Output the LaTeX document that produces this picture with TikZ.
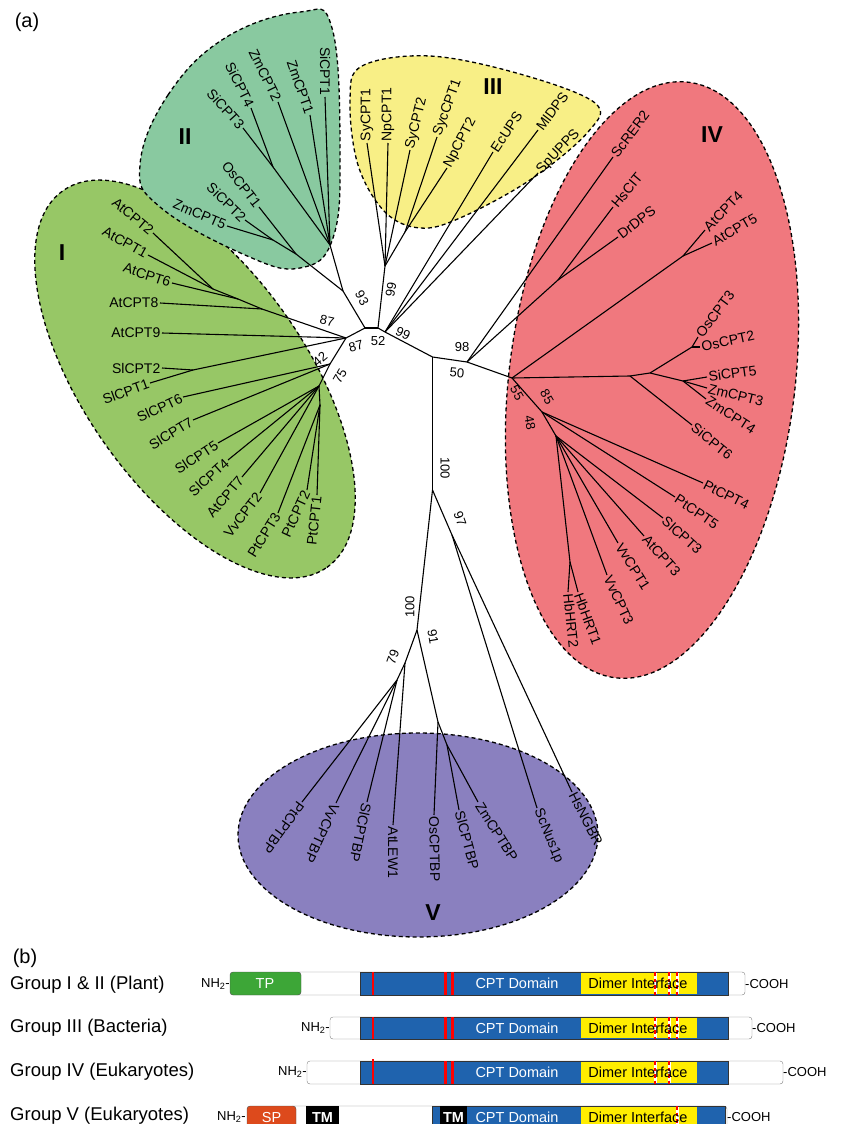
\documentclass[tikz,border=0pt]{standalone}
\usepackage{fontspec}
\setmainfont{Liberation Sans}
\definecolor{grpi}{HTML}{97C766}
\definecolor{grpii}{HTML}{89C9A0}
\definecolor{grpiii}{HTML}{F8EF86}
\definecolor{grpiv}{HTML}{F0787E}
\definecolor{grpv}{HTML}{8A80BF}
\definecolor{cptblue}{HTML}{1F63AE}
\definecolor{dimer}{HTML}{FFED00}
\definecolor{tpgreen}{HTML}{3DA637}
\definecolor{spred}{HTML}{DD4A1C}
\tikzstyle{clade}=[draw=black, line width=1.3pt, dash pattern=on 4pt off 3pt]
\tikzstyle{twig}=[line width=1.1pt]
\tikzstyle{taxon}=[anchor=east, inner sep=1.5pt, font=\fontsize{14}{16}\selectfont]
\tikzstyle{taxonr}=[anchor=west, inner sep=1.5pt, font=\fontsize{14}{16}\selectfont]
\tikzstyle{boot}=[inner sep=0pt, font=\fontsize{13}{15}\selectfont]
\tikzstyle{groupname}=[inner sep=0pt, font=\fontsize{23}{26}\selectfont\bfseries]
\tikzstyle{panel}=[inner sep=0pt, font=\fontsize{20}{24}\selectfont]
\tikzstyle{rowname}=[anchor=west, inner sep=0pt, font=\fontsize{18.5}{22}\selectfont]
\tikzstyle{terminus}=[inner sep=0pt, font=\fontsize{13}{15}\selectfont]
\tikzstyle{inbar}=[inner sep=0pt, font=\fontsize{14.5}{16}\selectfont]
\tikzstyle{motif}=[draw=red, line width=2.6pt, dash pattern=on 3.5pt off 3pt]
\begin{document}
\begin{tikzpicture}
  \useasboundingbox (0pt, 0pt) rectangle (844pt, -1124pt);

  \draw[clade, fill=grpi, rotate around={-55:(195pt, -379pt)}] (195pt, -379pt) ellipse [x radius=230pt, y radius=111pt];
  \draw[clade, fill=grpii] plot[smooth cycle, tension=0.7] coordinates {(140pt, -165pt) (168pt, -95pt) (225pt, -38pt) (300pt, -12pt) (332pt, -28pt) (340pt, -150pt) (333pt, -238pt) (300pt, -268pt) (245pt, -255pt) (160pt, -207pt)};
  \draw[clade, fill=grpiii] plot[smooth cycle, tension=0.6] coordinates {(350pt, -100pt) (362pt, -66pt) (430pt, -56pt) (520pt, -74pt) (595pt, -103pt) (588pt, -132pt) (530pt, -180pt) (460pt, -218pt) (420pt, -228pt) (385pt, -212pt) (358pt, -165pt)};
  \draw[clade, fill=grpiv, rotate around={-7:(652pt, -380pt)}] (652pt, -380pt) ellipse [x radius=143pt, y radius=300pt];
  \draw[clade, fill=grpv] (418pt, -835pt) ellipse [x radius=180pt, y radius=102pt];

  \node at (27pt, -22pt) (pa) [panel] {(a)};
  \node at (62pt, -253pt) (gI) [groupname] {I};
  \node at (185pt, -137pt) (gII) [groupname] {II};
  \node at (493pt, -87pt) (gIII) [groupname] {III};
  \node at (712pt, -135pt) (gIV) [groupname] {IV};
  \node at (433pt, -913pt) (gV) [groupname] {V};

  \node at (365pt, -328pt) (nC) {};
  \node at (378pt, -328pt) (nCb) {};
  \node at (343pt, -291pt) (n93) {};
  \node at (330pt, -245pt) (nII1) {};
  \node at (273pt, -167pt) (nII34) {};
  \node at (296pt, -254pt) (nII2) {};
  \node at (273pt, -240pt) (nII25) {};
  \node at (346pt, -338pt) (nA) {};
  \node at (262pt, -309pt) (nAt8) {};
  \node at (238pt, -299pt) (nAt6) {};
  \node at (213pt, -289pt) (nAt12) {};
  \node at (193pt, -370pt) (nSl12) {};
  \node at (330pt, -364pt) (n42) {};
  \node at (319pt, -386pt) (n75) {};
  \node at (320pt, -405pt) (nPt) {};
  \node at (385pt, -266pt) (nCy) {};
  \node at (405pt, -232pt) (nSN) {};
  \node at (385pt, -332pt) (nD) {};
  \node at (432.5pt, -357pt) (nE) {};
  \node at (467pt, -362pt) (nF) {};
  \node at (558pt, -280pt) (nHD) {};
  \node at (512pt, -378pt) (nH) {};
  \node at (683pt, -256pt) (nAt45) {};
  \node at (630pt, -376pt) (nS6) {};
  \node at (650pt, -373pt) (nOZ) {};
  \node at (692pt, -347pt) (nOs) {};
  \node at (683pt, -381pt) (nSZ) {};
  \node at (542pt, -412pt) (n48) {};
  \node at (556pt, -436pt) (n48b) {};
  \node at (570pt, -562pt) (nHb) {};
  \node at (432.5pt, -490pt) (n97) {};
  \node at (452pt, -535pt) (nNG) {};
  \node at (417pt, -630pt) (n100) {};
  \node at (405pt, -663pt) (n79) {};
  \node at (397pt, -680pt) (nPV) {};
  \node at (438pt, -722pt) (n91) {};
  \node at (447pt, -745pt) (nSZb) {};

  \node at (325pt, -97pt) (si1) [taxon, rotate=-90] {SiCPT1};
  \node at (310pt, -115pt) (zm1) [taxon, rotate=-71] {ZmCPT1};
  \node at (278pt, -102pt) (zm2) [taxon, rotate=-64] {ZmCPT2};
  \node at (251pt, -108pt) (si4) [taxon, rotate=-64] {SiCPT4};
  \node at (243pt, -128pt) (si3) [taxon, rotate=-48] {SiCPT3};
  \node at (259pt, -207pt) (os1) [taxon, rotate=-52] {OsCPT1};
  \node at (245pt, -220pt) (si2) [taxon, rotate=-44] {SiCPT2};
  \node at (227pt, -226pt) (zm5) [taxon, rotate=-23] {ZmCPT5};

  \node at (153pt, -233pt) (at2) [taxon, rotate=-40] {AtCPT2};
  \node at (148pt, -255pt) (at1) [taxon, rotate=-29] {AtCPT1};
  \node at (172pt, -283pt) (at6) [taxon, rotate=-18] {AtCPT6};
  \node at (160pt, -303pt) (at8) [taxon] {AtCPT8};
  \node at (162pt, -333pt) (at9) [taxon] {AtCPT9};
  \node at (162pt, -368pt) (sl2) [taxon] {SlCPT2};
  \node at (150pt, -383pt) (sl1) [taxon, rotate=20] {SlCPT1};
  \node at (183pt, -397pt) (sl6) [taxon, rotate=25] {SlCPT6};
  \node at (193pt, -420pt) (sl7) [taxon, rotate=31] {SlCPT7};
  \node at (218pt, -443pt) (sl5) [taxon, rotate=33] {SlCPT5};
  \node at (228pt, -460pt) (sl4) [taxon, rotate=42] {SlCPT4};
  \node at (242pt, -477pt) (at7) [taxon, rotate=50] {AtCPT7};
  \node at (260pt, -493pt) (vv2) [taxon, rotate=52] {VvCPT2};
  \node at (278pt, -513pt) (pt3) [taxon, rotate=58] {PtCPT3};
  \node at (307pt, -490pt) (pt2) [taxon, rotate=65] {PtCPT2};
  \node at (317pt, -495pt) (pt1) [taxon, rotate=84] {PtCPT1};

  \node at (367pt, -143pt) (sy1) [taxonr, rotate=90] {SyCPT1};
  \node at (388pt, -143pt) (np1) [taxonr, rotate=90] {NpCPT1};
  \node at (410pt, -150pt) (sy2) [taxonr, rotate=76] {SyCPT2};
  \node at (437pt, -137pt) (syc1) [taxonr, rotate=70] {SycCPT1};
  \node at (447pt, -168pt) (np2) [taxonr, rotate=62] {NpCPT2};
  \node at (493pt, -152pt) (ec) [taxonr, rotate=56] {EcUPS};
  \node at (538pt, -130pt) (ml) [taxonr, rotate=53] {MlDPS};
  \node at (538pt, -173pt) (sp) [taxonr, rotate=46] {SpUPPS};

  \node at (613pt, -157pt) (sc) [taxonr, rotate=53] {ScRER2};
  \node at (613pt, -207pt) (hs) [taxonr, rotate=50] {HsCIT};
  \node at (618pt, -237pt) (dr) [taxonr, rotate=38] {DrDPS};
  \node at (705pt, -230pt) (at4) [taxonr, rotate=46] {AtCPT4};
  \node at (712pt, -243pt) (at5) [taxonr, rotate=30] {AtCPT5};
  \node at (698pt, -337pt) (os3) [taxonr, rotate=53] {OsCPT3};
  \node at (700pt, -347pt) (os2) [taxonr, rotate=12] {OsCPT2};
  \node at (707pt, -377pt) (si5) [taxonr, rotate=8] {SiCPT5};
  \node at (707pt, -388pt) (zm3) [taxonr, rotate=-14] {ZmCPT3};
  \node at (706pt, -399pt) (zm4) [taxonr, rotate=-33] {ZmCPT4};
  \node at (692pt, -425pt) (si6) [taxonr, rotate=-39] {SiCPT6};
  \node at (703pt, -483pt) (pt4) [taxonr, rotate=-27] {PtCPT4};
  \node at (675pt, -497pt) (pt5) [taxonr, rotate=-34] {PtCPT5};
  \node at (663pt, -518pt) (sl3) [taxonr, rotate=-42] {SlCPT3};
  \node at (644pt, -536pt) (at3) [taxonr, rotate=-48] {AtCPT3};
  \node at (618pt, -543pt) (vv1) [taxonr, rotate=-58] {VvCPT1};
  \node at (607pt, -575pt) (vv3) [taxonr, rotate=-65] {VvCPT3};
  \node at (578pt, -592pt) (hb1) [taxonr, rotate=-70] {HbHRT1};
  \node at (568pt, -592pt) (hb2) [taxonr, rotate=-84] {HbHRT2};

  \node at (302pt, -802pt) (ptbp) [taxonr, rotate=-126] {PtCPTBP};
  \node at (336pt, -803pt) (vvbp) [taxonr, rotate=-115] {VvCPTBP};
  \node at (367pt, -802pt) (slbp) [taxonr, rotate=-102] {SlCPTBP};
  \node at (393pt, -825pt) (atlew) [taxonr, rotate=-90] {AtLEW1};
  \node at (434pt, -815pt) (osbp) [taxonr, rotate=-89] {OsCPTBP};
  \node at (459pt, -810pt) (sibp) [taxonr, rotate=-75] {SlCPTBP};
  \node at (478pt, -802pt) (zmbp) [taxonr, rotate=-58] {ZmCPTBP};
  \node at (537pt, -808pt) (scnus) [taxonr, rotate=-68] {ScNus1p};
  \node at (572pt, -792pt) (hsngbr) [taxonr, rotate=-63] {HsNGBR};

  \draw[twig] (nC.center) -- (nCb.center);
  \draw[twig] (nC.center) -- (n93.center);
  \draw[twig] (nC.center) -- (nA.center);
  \draw[twig] (nCb.center) -- (nCy.center);
  \draw[twig] (nCb.center) -- (nD.center);
  \draw[twig] (nD.center) -- (nE.center);
  \draw[twig] (nE.center) -- (nF.center);
  \draw[twig] (nF.center) -- (nH.center);
  \draw[twig] (nE.center) -- (n97.center);
  \draw[twig] (n97.center) -- (n100.center);
  \draw[twig] (n97.center) -- (nNG.center);

  \draw[twig] (n93.center) -- (nII1.center);
  \draw[twig] (n93.center) -- (nII2.center);
  \draw[twig] (nII1.center) -- (si1.east);
  \draw[twig] (nII1.center) -- (zm1.east);
  \draw[twig] (nII1.center) -- (zm2.east);
  \draw[twig] (nII1.center) -- (nII34.center);
  \draw[twig] (nII34.center) -- (si4.east);
  \draw[twig] (nII34.center) -- (si3.east);
  \draw[twig] (nII2.center) -- (os1.east);
  \draw[twig] (nII2.center) -- (nII25.center);
  \draw[twig] (nII25.center) -- (si2.east);
  \draw[twig] (nII25.center) -- (zm5.east);

  \draw[twig] (nA.center) -- (nAt8.center);
  \draw[twig] (nAt8.center) -- (nAt6.center);
  \draw[twig] (nAt6.center) -- (nAt12.center);
  \draw[twig] (nAt8.center) -- (at8.east);
  \draw[twig] (nAt6.center) -- (at6.east);
  \draw[twig] (nAt12.center) -- (at2.east);
  \draw[twig] (nAt12.center) -- (at1.east);
  \draw[twig] (nA.center) -- (at9.east);
  \draw[twig] (nA.center) -- (nSl12.center);
  \draw[twig] (nSl12.center) -- (sl2.east);
  \draw[twig] (nSl12.center) -- (sl1.east);
  \draw[twig] (nA.center) -- (n42.center);
  \draw[twig] (n42.center) -- (sl6.east);
  \draw[twig] (n42.center) -- (sl7.east);
  \draw[twig] (n42.center) -- (n75.center);
  \draw[twig] (n75.center) -- (sl5.east);
  \draw[twig] (n75.center) -- (sl4.east);
  \draw[twig] (n75.center) -- (at7.east);
  \draw[twig] (n75.center) -- (vv2.east);
  \draw[twig] (n75.center) -- (nPt.center);
  \draw[twig] (nPt.center) -- (pt3.east);
  \draw[twig] (nPt.center) -- (pt2.east);
  \draw[twig] (nPt.center) -- (pt1.east);

  \draw[twig] (nCy.center) -- (sy1.west);
  \draw[twig] (nCy.center) -- (np1.west);
  \draw[twig] (nCy.center) -- (sy2.west);
  \draw[twig] (nCy.center) -- (nSN.center);
  \draw[twig] (nSN.center) -- (syc1.west);
  \draw[twig] (nSN.center) -- (np2.west);
  \draw[twig] (nD.center) -- (ec.west);
  \draw[twig] (nD.center) -- (ml.west);
  \draw[twig] (nD.center) -- (sp.west);

  \draw[twig] (nF.center) -- (sc.west);
  \draw[twig] (nF.center) -- (nHD.center);
  \draw[twig] (nHD.center) -- (hs.west);
  \draw[twig] (nHD.center) -- (dr.west);
  \draw[twig] (nH.center) -- (nAt45.center);
  \draw[twig] (nAt45.center) -- (at4.west);
  \draw[twig] (nAt45.center) -- (at5.west);
  \draw[twig] (nH.center) -- (nS6.center);
  \draw[twig] (nS6.center) -- (si6.west);
  \draw[twig] (nS6.center) -- (nOZ.center);
  \draw[twig] (nOZ.center) -- (nOs.center);
  \draw[twig] (nOs.center) -- (os3.west);
  \draw[twig] (nOs.center) -- (os2.west);
  \draw[twig] (nOZ.center) -- (nSZ.center);
  \draw[twig] (nSZ.center) -- (si5.west);
  \draw[twig] (nSZ.center) -- (zm3.west);
  \draw[twig] (nSZ.center) -- (zm4.west);
  \draw[twig] (nH.center) -- (n48.center);
  \draw[twig] (n48.center) -- (pt4.west);
  \draw[twig] (n48.center) -- (pt5.west);
  \draw[twig] (n48.center) -- (n48b.center);
  \draw[twig] (n48b.center) -- (sl3.west);
  \draw[twig] (n48b.center) -- (at3.west);
  \draw[twig] (n48b.center) -- (vv1.west);
  \draw[twig] (n48b.center) -- (vv3.west);
  \draw[twig] (n48b.center) -- (nHb.center);
  \draw[twig] (nHb.center) -- (hb1.west);
  \draw[twig] (nHb.center) -- (hb2.west);

  \draw[twig] (nNG.center) -- (scnus.west);
  \draw[twig] (nNG.center) -- (hsngbr.west);
  \draw[twig] (n100.center) -- (n79.center);
  \draw[twig] (n79.center) -- (nPV.center);
  \draw[twig] (nPV.center) -- (ptbp.west);
  \draw[twig] (nPV.center) -- (vvbp.west);
  \draw[twig] (nPV.center) -- (slbp.west);
  \draw[twig] (n79.center) -- (atlew.west);
  \draw[twig] (n100.center) -- (n91.center);
  \draw[twig] (n91.center) -- (osbp.west);
  \draw[twig] (n91.center) -- (nSZb.center);
  \draw[twig] (nSZb.center) -- (sibp.west);
  \draw[twig] (nSZb.center) -- (zmbp.west);

  \node at (327pt, -321pt) (b87a) [boot, rotate=-12] {87};
  \node at (356pt, -346pt) (b87b) [boot, rotate=15] {87};
  \node at (378pt, -341pt) (b52) [boot] {52};
  \node at (362pt, -298pt) (b93) [boot, rotate=-62] {93};
  \node at (391pt, -290pt) (b99a) [boot, rotate=80] {99};
  \node at (403pt, -333pt) (b99b) [boot, rotate=-25] {99};
  \node at (320pt, -359pt) (b42) [boot, rotate=40] {42};
  \node at (340pt, -376pt) (b75) [boot, rotate=60] {75};
  \node at (462pt, -347pt) (b98) [boot] {98};
  \node at (457pt, -373pt) (b50) [boot, rotate=-5] {50};
  \node at (517pt, -393pt) (b55) [boot, rotate=-60] {55};
  \node at (547pt, -397pt) (b85) [boot, rotate=-60] {85};
  \node at (530pt, -423pt) (b48) [boot, rotate=-80] {48};
  \node at (445pt, -468pt) (b100a) [boot, rotate=-90] {100};
  \node at (460pt, -519pt) (b97) [boot, rotate=-70] {97};
  \node at (410pt, -607pt) (b100b) [boot, rotate=90] {100};
  \node at (433pt, -637pt) (b91) [boot, rotate=-80] {91};
  \node at (393pt, -657pt) (b79) [boot, rotate=70] {79};

  \node at (25pt, -958pt) (pb) [panel] {(b)};

  \node at (10pt, -985pt) (r1) [rowname] {Group I \& II (Plant)};
  \node at (230pt, -984pt) (nh1) [terminus, anchor=east] {NH\textsubscript{2}-};
  \draw[fill=white, draw=gray, rounded corners=3pt] (296pt, -972pt) rectangle (745pt, -995pt);
  \draw[fill=tpgreen, draw=black!70, rounded corners=3pt] (230pt, -972pt) rectangle (301pt, -995pt);
  \node at (265pt, -983.5pt) (tp) [inbar, text=white] {TP};
  \draw[fill=cptblue, draw=black!80] (360pt, -972pt) rectangle (728pt, -995pt);
  \fill[dimer] (581pt, -973pt) rectangle (697pt, -994pt);
  \fill[red] (371.5pt, -972pt) rectangle (374pt, -995pt);
  \fill[red] (444pt, -972pt) rectangle (446.5pt, -995pt);
  \fill[red] (451pt, -972pt) rectangle (453.5pt, -995pt);
  \fill[white] (653.5pt, -973pt) rectangle (656.5pt, -994pt);
  \fill[white] (667.5pt, -973pt) rectangle (670.5pt, -994pt);
  \fill[white] (675.5pt, -973pt) rectangle (678.5pt, -994pt);
  \draw[motif] (655pt, -972pt) -- (655pt, -995pt);
  \draw[motif] (669pt, -972pt) -- (669pt, -995pt);
  \draw[motif] (677pt, -972pt) -- (677pt, -995pt);
  \node at (517pt, -983.5pt) (cpt1) [inbar, text=white] {CPT Domain};
  \node at (638pt, -983.5pt) (dim1) [inbar] {Dimer Interface};
  \node at (745pt, -984pt) (co1) [terminus, anchor=west] {-COOH};

  \node at (10pt, -1028pt) (r2) [rowname] {Group III (Bacteria)};
  \node at (330pt, -1028pt) (nh2) [terminus, anchor=east] {NH\textsubscript{2}-};
  \draw[fill=white, draw=gray, rounded corners=3pt] (330pt, -1017pt) rectangle (752pt, -1039pt);
  \draw[fill=cptblue, draw=black!80] (360pt, -1017pt) rectangle (728pt, -1039pt);
  \fill[dimer] (581pt, -1018pt) rectangle (697pt, -1038pt);
  \fill[red] (371.5pt, -1017pt) rectangle (374pt, -1039pt);
  \fill[red] (444pt, -1017pt) rectangle (446.5pt, -1039pt);
  \fill[red] (451pt, -1017pt) rectangle (453.5pt, -1039pt);
  \fill[white] (653.5pt, -1018pt) rectangle (656.5pt, -1038pt);
  \fill[white] (667.5pt, -1018pt) rectangle (670.5pt, -1038pt);
  \fill[white] (675.5pt, -1018pt) rectangle (678.5pt, -1038pt);
  \draw[motif] (655pt, -1017pt) -- (655pt, -1039pt);
  \draw[motif] (669pt, -1017pt) -- (669pt, -1039pt);
  \draw[motif] (677pt, -1017pt) -- (677pt, -1039pt);
  \node at (517pt, -1028pt) (cpt2) [inbar, text=white] {CPT Domain};
  \node at (638pt, -1028pt) (dim2) [inbar] {Dimer Interface};
  \node at (752pt, -1028pt) (co2) [terminus, anchor=west] {-COOH};

  \node at (10pt, -1072pt) (r3) [rowname] {Group IV (Eukaryotes)};
  \node at (307pt, -1072pt) (nh3) [terminus, anchor=east] {NH\textsubscript{2}-};
  \draw[fill=white, draw=gray, rounded corners=3pt] (307pt, -1061pt) rectangle (783pt, -1084pt);
  \draw[fill=cptblue, draw=black!80] (360pt, -1061pt) rectangle (728pt, -1084pt);
  \fill[dimer] (581pt, -1062pt) rectangle (697pt, -1083pt);
  \fill[red] (371.5pt, -1059pt) rectangle (374pt, -1084pt);
  \fill[red] (444pt, -1061pt) rectangle (446.5pt, -1084pt);
  \fill[red] (451pt, -1061pt) rectangle (453.5pt, -1084pt);
  \fill[white] (653.5pt, -1062pt) rectangle (656.5pt, -1083pt);
  \fill[white] (667.5pt, -1062pt) rectangle (670.5pt, -1083pt);
  \draw[motif] (655pt, -1061pt) -- (655pt, -1084pt);
  \draw[motif] (669pt, -1061pt) -- (669pt, -1084pt);
  \node at (517pt, -1072.5pt) (cpt3) [inbar, text=white] {CPT Domain};
  \node at (638pt, -1072.5pt) (dim3) [inbar] {Dimer Interface};
  \node at (783pt, -1072pt) (co3) [terminus, anchor=west] {-COOH};

  \node at (10pt, -1116pt) (r4) [rowname] {Group V (Eukaryotes)};
  \node at (246pt, -1117pt) (nh4) [terminus, anchor=east] {NH\textsubscript{2}-};
  \draw[fill=white, draw=gray, rounded corners=3pt] (290pt, -1106pt) rectangle (727pt, -1129pt);
  \draw[fill=spred, draw=black!70, rounded corners=3pt] (247pt, -1106pt) rectangle (296pt, -1129pt);
  \node at (271.5pt, -1117pt) (sp1) [inbar, text=white] {SP};
  \fill[black] (306pt, -1106pt) rectangle (339pt, -1129pt);
  \node at (322.5pt, -1117pt) (tm1) [inbar, text=white, font=\fontsize{14.5}{16}\selectfont\bfseries] {TM};
  \draw[fill=cptblue, draw=black!80] (432pt, -1106pt) rectangle (725pt, -1129pt);
  \fill[black] (440pt, -1106pt) rectangle (467pt, -1129pt);
  \node at (453.5pt, -1117pt) (tm2) [inbar, text=white, font=\fontsize{14.5}{16}\selectfont\bfseries] {TM};
  \fill[dimer] (581pt, -1107pt) rectangle (697pt, -1128pt);
  \fill[white] (675.5pt, -1107pt) rectangle (678.5pt, -1128pt);
  \draw[motif] (677pt, -1106pt) -- (677pt, -1129pt);
  \node at (517pt, -1117pt) (cpt4) [inbar, text=white] {CPT Domain};
  \node at (638pt, -1117pt) (dim4) [inbar] {Dimer Interface};
  \node at (727pt, -1117pt) (co4) [terminus, anchor=west] {-COOH};
\end{tikzpicture}
\end{document}
